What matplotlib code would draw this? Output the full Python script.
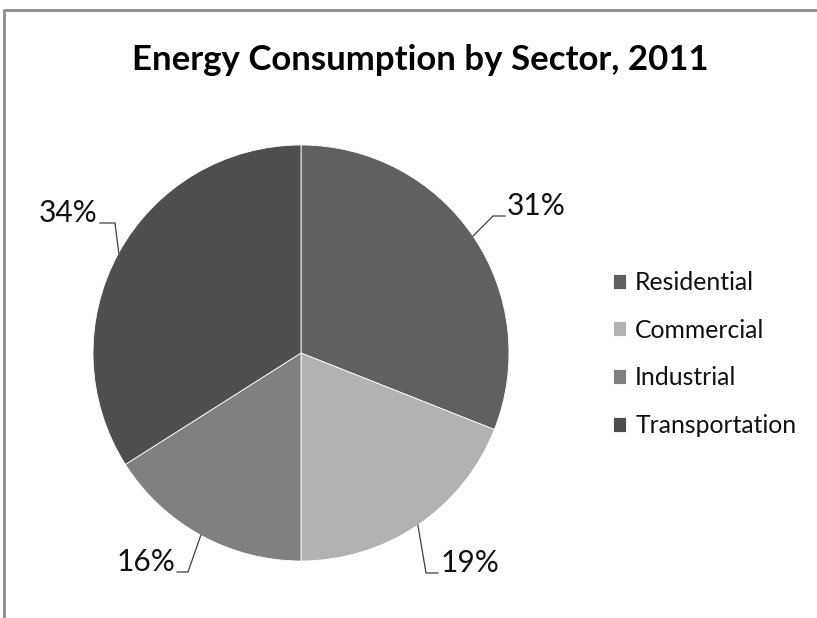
import numpy as np
import matplotlib
matplotlib.use("Agg")
import matplotlib.pyplot as plt
from matplotlib.lines import Line2D

# dados do gráfico
setores = ["Residential", "Commercial", "Industrial", "Transportation"]
percentuais = [31, 19, 16, 34]
cores = ["#606060", "#b2b2b2", "#808080", "#4f4f4f"]
titulo = "Energy Consumption by Sector, 2011"

plt.rcParams["font.family"] = ["Lato", "DejaVu Sans"]

W, H = 817, 618
fig = plt.figure(figsize=(W / 100, H / 100), dpi=100)

# eixo da pizza: centro (301, 353) px, raio 208 px
cx, cy, r = 301, 353, 208
ax = fig.add_axes([(cx - r) / W, (H - cy - r) / H, 2 * r / W, 2 * r / H])
wedges, _ = ax.pie(percentuais, colors=cores, startangle=90, counterclock=False,
                   radius=1, wedgeprops=dict(edgecolor="white", linewidth=0.6))
ax.set_xlim(-1, 1)
ax.set_ylim(-1, 1)
ax.set_aspect("equal")
ax.axis("off")

# rótulos com linhas de chamada (cotovelo e posição do texto em px)
cotovelos = [(493, 216, 505, "left"), (426, 573, 438, "left"),
             (188, 572, 177, "right"), (115, 223, 100, "right")]
for w, p, (ex, ey, tx, ha) in zip(wedges, percentuais, cotovelos):
    ang = np.deg2rad((w.theta1 + w.theta2) / 2)
    x0, y0 = np.cos(ang), np.sin(ang)
    ex_d, ey_d = (ex - cx) / r, (cy - ey) / r
    tx_d = (tx - cx) / r
    ax.plot([x0, ex_d, tx_d], [y0, ey_d, ey_d], color="#404040", lw=0.9,
            clip_on=False)
    off = 0.01 if ha == "left" else -0.01
    ax.text(tx_d + off, ey_d + 0.006, f"{p}%", ha=ha, va="baseline",
            fontsize=21.5, color="#111111", clip_on=False)

fig.text(420 / W, 1 - 60 / H, titulo, ha="center", va="center",
         fontsize=25, fontweight="bold", color="black")

leg = fig.legend(wedges, setores, loc="upper left",
                 bbox_to_anchor=(603 / W, 1 - 261 / H), frameon=False,
                 fontsize=17.8, handlelength=0.55, handleheight=0.55,
                 handletextpad=0.35, labelspacing=1.0, borderaxespad=0)
for t in leg.get_texts():
    t.set_color("#111111")

# moldura cinza (topo e esquerda)
fig.lines.append(Line2D([4 / W, 4 / W, 1.05], [-0.05, 1 - 10 / H, 1 - 10 / H],
                        transform=fig.transFigure, color="#8c8c8c",
                        linewidth=2))

fig.savefig("out.png", dpi=100)
